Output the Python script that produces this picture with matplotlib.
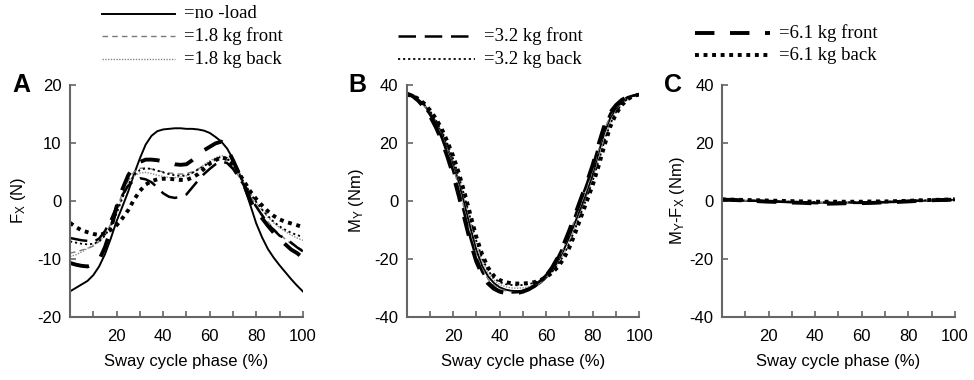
import matplotlib.pyplot as plt
from matplotlib.lines import Line2D

plt.rcParams['font.family'] = ['Liberation Sans', 'DejaVu Sans']
plt.rcParams['mathtext.fontset'] = 'custom'
plt.rcParams['mathtext.rm'] = 'Liberation Sans'
plt.rcParams['mathtext.it'] = 'Liberation Sans:italic'
plt.rcParams['axes.unicode_minus'] = False

# sway cycle phase (%)
phase = [0, 2.5, 5, 7.5, 10, 12.5, 15, 17.5, 20, 22.5, 25, 27.5, 30, 32.5, 35, 37.5, 40, 42.5, 45, 47.5,
         50, 52.5, 55, 57.5, 60, 62.5, 65, 67.5, 70, 72.5, 75, 77.5, 80, 82.5, 85, 87.5, 90, 92.5, 95, 97.5, 100]
phase_c = [0, 5, 10, 15, 20, 25, 30, 35, 40, 45, 50, 55, 60, 65, 70, 75, 80, 85, 90, 95, 100]

conditions = ['no -load', '1.8 kg front', '1.8 kg back', '3.2 kg front',
              '3.2 kg back', '6.1 kg front', '6.1 kg back']

# panel A: Fx (N)
fx_noload = [-15.6, -15.0, -14.4, -13.8, -12.8, -11.3, -9.2, -6.5, -3.5, -1.0, 1.6, 4.6, 7.3, 9.7, 11.2, 12.0, 12.3, 12.4, 12.5, 12.5,
             12.4, 12.4, 12.3, 12.1, 11.7, 11.0, 10.2, 9.0, 7.2, 5.0, 2.2, -0.8, -3.9, -6.3, -8.3, -9.8, -11.1, -12.3, -13.5, -14.6, -15.6]
fx_18front = [-9.0, -8.8, -8.5, -8.2, -7.8, -7.0, -5.8, -4.0, -1.5, 1.3, 3.5, 5.0, 5.6, 5.7, 5.5, 5.2, 5.0, 4.8, 4.7, 4.6,
              4.7, 5.0, 5.5, 6.0, 6.5, 7.0, 7.3, 7.0, 5.8, 4.2, 2.6, 0.8, -0.8, -2.3, -3.6, -4.8, -5.8, -6.6, -7.4, -8.0, -8.4]
fx_18back = [-9.6, -9.3, -8.8, -8.2, -7.6, -7.0, -6.0, -4.3, -2.0, 0.8, 3.0, 4.3, 4.8, 4.9, 4.7, 4.4, 4.2, 4.0, 4.0, 4.1,
             4.3, 4.8, 5.4, 6.2, 6.9, 7.4, 7.8, 7.5, 6.3, 4.8, 3.0, 1.3, -0.3, -1.6, -2.8, -3.8, -4.6, -5.3, -5.9, -6.4, -6.8]
fx_32front = [-6.4, -6.6, -6.8, -6.9, -7.1, -6.5, -5.2, -3.3, -1.0, 1.0, 2.6, 3.5, 3.9, 3.7, 3.2, 2.3, 1.3, 0.7, 0.5, 0.7,
              1.1, 2.3, 3.5, 4.6, 5.5, 6.3, 6.8, 6.5, 5.5, 4.0, 2.5, 0.5, -1.0, -2.5, -4.0, -5.0, -6.0, -6.5, -7.2, -8.0, -8.7]
fx_32back = [-7.0, -7.2, -7.4, -7.5, -7.4, -7.0, -6.0, -4.4, -2.2, 0.5, 2.8, 4.4, 5.3, 5.6, 5.5, 5.2, 4.9, 4.6, 4.4, 4.3,
             4.4, 4.8, 5.4, 6.0, 6.6, 7.2, 7.6, 7.3, 6.2, 4.6, 3.0, 1.3, -0.2, -1.5, -2.6, -3.6, -4.4, -5.0, -5.5, -5.9, -6.2]
fx_61front = [-10.7, -11.0, -11.2, -11.3, -11.0, -10.2, -8.0, -5.0, -1.0, 2.0, 4.4, 6.0, 6.7, 7.1, 7.1, 7.0, 6.8, 6.6, 6.3, 6.2,
              6.3, 7.0, 7.8, 8.7, 9.3, 9.9, 10.2, 9.0, 7.0, 4.8, 2.5, 0.0, -1.8, -3.0, -4.3, -5.5, -6.5, -7.5, -8.4, -9.0, -9.8]
fx_61back = [-3.8, -4.5, -5.1, -5.4, -5.7, -5.9, -5.6, -5.0, -4.2, -3.0, -1.6, 0.2, 1.7, 2.8, 3.4, 3.7, 3.8, 3.8, 3.7, 3.6,
             3.6, 4.0, 4.6, 5.5, 6.4, 7.0, 7.5, 7.2, 6.2, 4.8, 3.2, 1.6, 0.3, -0.8, -1.8, -2.6, -3.2, -3.6, -3.9, -4.2, -4.5]

# panel B: My (Nm)
my_noload = [36.6, 36.0, 34.8, 33.0, 30.5, 27.3, 23.5, 18.5, 12.8, 6.3, -1.5, -9.5, -17.0, -22.5, -26.0, -28.3, -29.8, -30.6, -31.0, -31.1,
             -31.0, -30.6, -29.6, -28.3, -26.5, -24.0, -21.0, -17.0, -12.3, -7.2, -2.2, 3.0, 9.0, 16.5, 23.5, 28.5, 31.8, 34.0, 35.4, 36.3, 36.6]
my_18front = [36.6, 36.0, 34.7, 32.8, 30.2, 26.8, 22.8, 17.5, 11.5, 4.8, -3.5, -11.5, -18.5, -23.5, -27.0, -29.0, -30.3, -31.0, -31.3, -31.3,
              -31.1, -30.6, -29.6, -28.2, -26.3, -23.7, -20.5, -16.3, -11.3, -6.0, -0.8, 4.5, 10.5, 17.5, 24.5, 29.3, 32.3, 34.2, 35.5, 36.3, 36.6]
my_18back = [36.6, 36.0, 34.9, 33.2, 30.8, 27.7, 24.0, 19.2, 13.7, 7.5, 0.5, -7.0, -14.8, -20.8, -24.8, -27.3, -28.8, -29.6, -30.0, -30.1,
             -30.0, -29.6, -29.0, -28.0, -26.6, -24.5, -21.8, -18.2, -13.8, -8.8, -3.5, 1.8, 7.5, 14.5, 21.5, 27.0, 31.0, 33.5, 35.2, 36.2, 36.6]
my_32front = [36.6, 36.0, 34.6, 32.6, 29.8, 26.3, 22.0, 16.5, 10.3, 3.0, -5.0, -13.0, -19.8, -24.5, -27.8, -29.8, -31.0, -31.5, -31.6, -31.5,
              -31.0, -30.2, -29.0, -27.5, -25.5, -22.8, -19.5, -15.3, -10.5, -5.0, 0.5, 6.0, 12.0, 19.0, 25.5, 30.0, 32.8, 34.6, 35.7, 36.3, 36.6]
my_32back = [36.6, 36.1, 35.0, 33.3, 31.0, 28.0, 24.3, 19.8, 14.5, 8.3, 1.3, -6.3, -13.8, -19.8, -24.0, -26.6, -28.0, -28.7, -29.0, -29.1,
             -29.0, -28.7, -28.2, -27.4, -26.3, -24.5, -22.0, -18.8, -14.5, -9.5, -4.2, 1.2, 7.0, 13.5, 20.5, 26.5, 30.5, 33.3, 35.2, 36.2, 36.6]
my_61front = [37.0, 36.2, 34.5, 32.3, 29.3, 25.5, 21.0, 15.3, 9.0, 1.5, -6.5, -14.5, -21.0, -25.5, -28.5, -30.3, -31.3, -31.8, -32.0, -31.8,
              -31.3, -30.5, -29.3, -27.8, -25.8, -23.0, -19.5, -15.0, -10.0, -4.5, 1.0, 6.5, 12.5, 19.5, 26.0, 30.5, 33.0, 34.8, 35.8, 36.4, 36.6]
my_61back = [36.6, 36.2, 35.2, 33.6, 31.3, 28.5, 25.0, 20.5, 15.5, 9.5, 2.5, -5.0, -12.5, -18.5, -23.0, -25.8, -27.3, -28.0, -28.4, -28.5,
             -28.5, -28.3, -28.0, -27.3, -26.3, -24.8, -22.8, -20.0, -16.0, -11.0, -5.5, 0.0, 5.5, 12.0, 19.0, 25.5, 30.0, 33.0, 35.0, 36.2, 36.6]

# panel C: My - Fx (Nm)
d_noload = [0.3, 0.2, 0.0, -0.1, -0.2, -0.3, -0.4, -0.5, -0.6, -0.7, -0.7, -0.6, -0.6, -0.5, -0.4, -0.3, -0.2, 0.0, 0.1, 0.2, 0.3]
d_18front = [0.4, 0.3, 0.1, 0.0, -0.1, -0.2, -0.3, -0.5, -0.6, -0.6, -0.5, -0.5, -0.4, -0.4, -0.3, -0.2, -0.1, 0.1, 0.2, 0.3, 0.3]
d_18back = [0.2, 0.1, 0.0, -0.1, -0.2, -0.3, -0.4, -0.4, -0.5, -0.6, -0.6, -0.6, -0.5, -0.5, -0.4, -0.3, -0.1, 0.0, 0.1, 0.2, 0.2]
d_32front = [0.5, 0.3, 0.2, 0.0, -0.2, -0.3, -0.5, -0.6, -0.8, -0.9, -0.8, -0.7, -0.7, -0.6, -0.5, -0.3, -0.1, 0.1, 0.2, 0.3, 0.4]
d_32back = [0.3, 0.3, 0.1, 0.0, -0.1, -0.2, -0.3, -0.4, -0.4, -0.5, -0.5, -0.5, -0.4, -0.4, -0.3, -0.2, -0.1, 0.1, 0.2, 0.3, 0.3]
d_61front = [0.4, 0.3, 0.1, -0.1, -0.3, -0.4, -0.6, -0.7, -0.9, -1.0, -0.9, -0.8, -0.8, -0.7, -0.5, -0.4, -0.2, 0.0, 0.2, 0.3, 0.4]
d_61back = [0.5, 0.4, 0.3, 0.2, 0.1, 0.0, -0.1, -0.2, -0.3, -0.3, -0.3, -0.3, -0.3, -0.2, -0.2, -0.1, 0.0, 0.2, 0.3, 0.4, 0.5]

styles = [
    dict(color='black', lw=1.4, ls='-'),
    dict(color='#7a7a7a', lw=1.0, ls=(0, (4, 3))),
    dict(color='#8a8a8a', lw=1.0, ls=(0, (1, 1))),
    dict(color='black', lw=1.8, ls=(0, (7, 3.5))),
    dict(color='black', lw=1.3, ls=(0, (1.2, 1.6))),
    dict(color='black', lw=2.8, ls=(0, (5, 4))),
    dict(color='black', lw=2.8, ls=(0, (1.0, 1.2))),
]

panels = [
    ('A', phase, [fx_noload, fx_18front, fx_18back, fx_32front, fx_32back, fx_61front, fx_61back],
     (-20, 20), [-20, -10, 0, 10, 20], r'F$_{\rm X}$ (N)', 0.0719, 7),
    ('B', phase, [my_noload, my_18front, my_18back, my_32front, my_32back, my_61front, my_61back],
     (-40, 40), [-40, -20, 0, 20, 40], r'M$_{\rm Y}$ (Nm)', 0.4174, 6),
    ('C', phase_c, [d_noload, d_18front, d_18back, d_32front, d_32back, d_61front, d_61back],
     (-40, 40), [-40, -20, 0, 20, 40], r'M$_{\rm Y}$-F$_{\rm X}$ (Nm)', 0.7413, 2),
]

fig = plt.figure(figsize=(9.74, 3.8), dpi=100)
spine_col = '#666666'

for letter, xs, series, ylim, yticks, ylabel, left, ypad in panels:
    ax = fig.add_axes([left, 0.166, 0.239, 0.611])
    for ys, st in zip(series, styles):
        ax.plot(xs, ys, dash_capstyle='butt', **st)
    ax.set_xlim(0, 100)
    ax.set_ylim(*ylim)
    ax.set_xticks(range(10, 101, 10))
    ax.set_xticklabels(['' if t % 20 else str(t) for t in range(10, 101, 10)])
    ax.set_yticks(yticks)
    ax.tick_params(direction='in', length=4, width=1.2, color=spine_col, labelsize=12)
    ax.tick_params(axis='x', pad=9)
    ax.tick_params(axis='y', pad=6)
    for s in ['top', 'right']:
        ax.spines[s].set_visible(False)
    for s in ['left', 'bottom']:
        ax.spines[s].set_color(spine_col)
        ax.spines[s].set_linewidth(1.5)
    ax.set_xlabel('Sway cycle phase (%)', fontsize=12, labelpad=7)
    ax.set_ylabel(ylabel, fontsize=12, labelpad=ypad)
    ax.text(-0.21, 1.0, letter, transform=ax.transAxes, fontsize=18,
            fontweight='bold', ha='center', va='center')

# legend entries spread across the three panels
legend_rows = [
    (0, 102, 175, 14), (1, 102, 175, 36), (2, 102, 175, 59),
    (3, 398, 475, 36), (4, 398, 475, 59),
    (5, 695, 770, 33), (6, 695, 770, 55),
]
W, H = 974.0, 380.0
for idx, x0, x1, y in legend_rows:
    st = styles[idx]
    fig.add_artist(Line2D([x0 / W, x1 / W], [1 - y / H, 1 - y / H],
                          transform=fig.transFigure, dash_capstyle='butt', **st))
    fig.text((x1 + 9) / W, 1 - y / H, '=' + conditions[idx],
             family='Liberation Serif', fontsize=13.5, va='center', ha='left')

fig.savefig('out.png', dpi=100)
